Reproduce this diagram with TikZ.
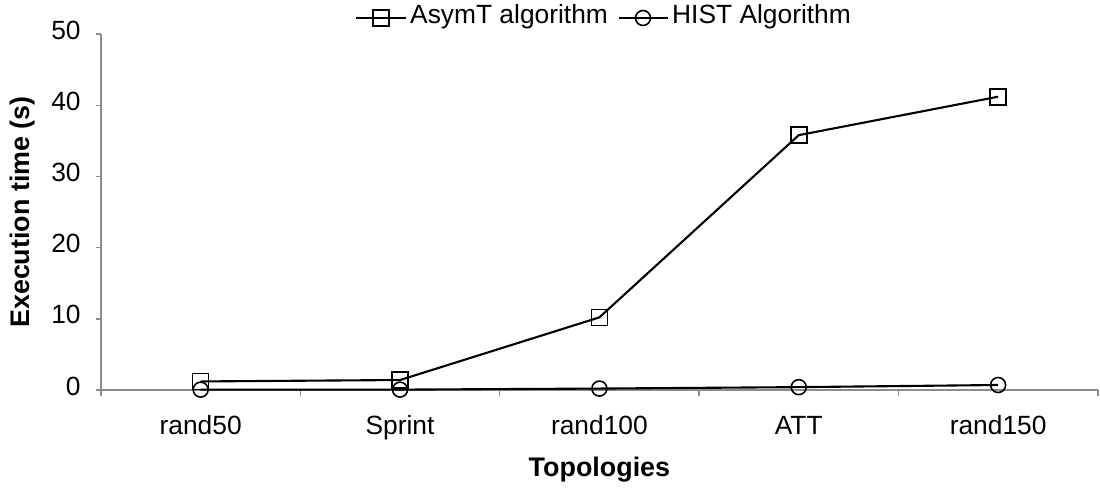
\documentclass[tikz,border=0pt]{standalone}
\usepackage{fontspec}
\setmainfont{Liberation Sans}
\tikzset{>=stealth}
\tikzset{
  axisline/.style={draw=black!45,line width=0.8pt},
  dataline/.style={draw=black,line width=1.2pt},
  sqmark/.style={draw=black,line width=0.9pt,rectangle,minimum size=0.32cm,inner sep=0pt},
  cirmark/.style={draw=black,line width=0.9pt,circle,minimum size=0.3cm,inner sep=0pt},
  ticklabel/.style={font=\fontsize{15}{18}\selectfont,text height=1.5ex,text depth=0.4ex},
  axislabel/.style={font=\fontsize{15.3}{18}\selectfont\bfseries,text height=1.6ex,text depth=0.5ex}
}

\begin{document}
\begin{tikzpicture}[x=0.02cm,y=0.02cm]
    \useasboundingbox (0,0) rectangle (1100,489);
    \begin{scope}[shift={(101,99)},x=3.988cm,y=0.1424cm]
        % axes and ticks
        \draw[axisline] (0,50) -- (0,0) -- (5,0);
        \foreach \v in {0,10,...,50} {
            \draw[axisline] (0,\v) -- ++(-0.1cm,0);
            \node[ticklabel,anchor=east,inner sep=0pt] (ytick\v) at ([xshift=-0.4cm]0,\v) {\v};
          }
        \foreach \i in {0,...,5} {
            \draw[axisline] (\i,0) -- ++(0,-0.12cm);
          }
        \foreach \n [count=\i] in {rand50,Sprint,rand100,ATT,rand150} {
            \node[ticklabel] (cat\i) at ([yshift=-0.78cm]\i-0.5,0) {\n};
          }
        \node[axislabel] (xlabel) at ([yshift=-1.63cm]2.5,0) {Topologies};
        \node[axislabel,rotate=90] (ylabel) at ([xshift=-1.54cm]0,25) {Execution time (s)};
        % data
        \foreach \v [count=\i] in {1.2,1.4,10.2,35.8,41.2} {
            \node[sqmark] (as\i) at (\i-0.5,\v) {};
          }
        \foreach \v [count=\i] in {0.05,0.05,0.2,0.4,0.7} {
            \node[cirmark] (hi\i) at (\i-0.5,\v) {};
          }
        \draw[dataline] (as1.center) -- (as2.center) -- (as3.center) -- (as4.center) -- (as5.center);
        \draw[dataline] (hi1.center) -- (hi2.center) -- (hi3.center) -- (hi4.center) -- (hi5.center);
    \end{scope}
    % legend
    \coordinate (legasL) at (356,471);
    \coordinate (legasR) at (406,471);
    \node[sqmark] (legas) at (381,471) {};
    \draw[dataline] (legasL) -- (legasR);
    \node[ticklabel,anchor=west] (legastext) at (404,471) {AsymT algorithm};
    \coordinate (leghiL) at (619,471);
    \coordinate (leghiR) at (668,471);
    \node[cirmark] (leghi) at (643,471) {};
    \draw[dataline] (leghiL) -- (leghiR);
    \node[ticklabel,anchor=west] (leghitext) at (666,471) {HIST Algorithm};
  \end{tikzpicture}
\end{document}
